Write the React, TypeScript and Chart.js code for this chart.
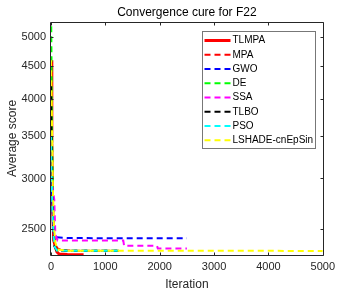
import React, { useEffect, useRef } from "react";
import { Chart, registerables } from "chart.js";

Chart.register(...registerables);

const FONT = "'Liberation Sans', Arial, Helvetica, sans-serif";

const chartTitle = "Convergence cure for F22";
const xAxisTitle = "Iteration";
const yAxisTitle = "Average score";

const seriesNames = ["TLMPA", "MPA", "GWO", "DE", "SSA", "TLBO", "PSO", "LSHADE-cnEpSin"];

const tlmpaIter = [0, 15, 30, 50, 80, 110, 150, 300, 600];
const tlmpaScore = [4600, 3400, 2700, 2400, 2345, 2300, 2283, 2280, 2278];

const mpaIter = [0, 15, 30, 50, 80, 120, 200, 400, 800, 1250];
const mpaScore = [4500, 3600, 2900, 2500, 2360, 2330, 2315, 2311, 2310, 2310];

const gwoIter = [0, 10, 20, 40, 60, 100, 300, 1000, 2500];
const gwoScore = [3860, 3200, 2800, 2500, 2440, 2425, 2420, 2417, 2416];

const deIter = [0, 10, 20, 40, 60, 80, 120, 400, 1250];
const deScore = [5800, 4500, 3500, 2700, 2400, 2330, 2312, 2310, 2310];

const ssaIter = [0, 30, 60, 80, 120, 1330, 1345, 1950, 1965, 2500];
const ssaScore = [2920, 2900, 2780, 2450, 2398, 2398, 2352, 2352, 2330, 2330];

const tlboIter = [0, 10, 20, 40, 60, 100, 300, 1250];
const tlboScore = [4200, 3500, 2900, 2500, 2350, 2315, 2311, 2310];

const psoIter = [0, 10, 25, 45, 70, 110, 400, 1250];
const psoScore = [3500, 3100, 2700, 2450, 2340, 2313, 2310, 2310];

const lshadeIter = [0, 15, 30, 50, 80, 120, 300, 1000, 5000];
const lshadeScore = [4600, 3800, 3000, 2550, 2380, 2320, 2311, 2310, 2309];

const xTickValues = [0, 1000, 2000, 3000, 4000, 5000];
const yTickValues = [2500, 3000, 3500, 4000, 4500, 5000];
const xMin = 0;
const xMax = 5000;
const yMin = 2275;
const yMax = 5283;

const seriesIters = [tlmpaIter, mpaIter, gwoIter, deIter, ssaIter, tlboIter, psoIter, lshadeIter];
const seriesScores = [tlmpaScore, mpaScore, gwoScore, deScore, ssaScore, tlboScore, psoScore, lshadeScore];

const colors = ["#ff0000", "#ff0000", "#0000ff", "#00ff00", "#ff00ff", "#000000", "#00ffff", "#ffff00"];

const decorPlugin = {
  id: "decor",
  afterDatasetsDraw(chart: any) {
    const { ctx, chartArea: a, scales } = chart;
    const L = Math.floor(a.left) - 0.5;
    const R = Math.round(a.right) + 0.5;
    const T = Math.floor(a.top) + 0.5;
    const B = Math.round(a.bottom) + 0.5;
    ctx.save();
    ctx.setLineDash([]);
    ctx.strokeStyle = "#262626";
    ctx.lineWidth = 1;
    ctx.beginPath();
    ctx.rect(L, T, R - L, B - T);
    ctx.stroke();
    const tl = 3;
    ctx.beginPath();
    xTickValues.forEach((v) => {
      const px = Math.round(scales.x.getPixelForValue(v)) + 0.5;
      ctx.moveTo(px, B);
      ctx.lineTo(px, B - tl);
      ctx.moveTo(px, T);
      ctx.lineTo(px, T + tl);
    });
    yTickValues.forEach((v) => {
      const py = Math.round(scales.y.getPixelForValue(v)) + 0.5;
      ctx.moveTo(L, py);
      ctx.lineTo(L + tl, py);
      ctx.moveTo(R, py);
      ctx.lineTo(R - tl, py);
    });
    ctx.stroke();

    // legend
    const lx = Math.round(a.right) - 120.5;
    const ly = Math.floor(a.top) + 9.5;
    const lw = 113;
    const lh = 117;
    ctx.fillStyle = "#ffffff";
    ctx.fillRect(lx, ly, lw, lh);
    ctx.strokeStyle = "#777777";
    ctx.lineWidth = 1;
    ctx.strokeRect(lx, ly, lw, lh);
    chart.data.datasets.forEach((ds: any, i: number) => {
      const y = ly + 9 + i * 14.25;
      ctx.beginPath();
      ctx.setLineDash(ds.borderDash || []);
      ctx.lineWidth = ds.borderWidth;
      ctx.strokeStyle = ds.borderColor;
      ctx.moveTo(lx + 2, y);
      ctx.lineTo(lx + 28, y);
      ctx.stroke();
      ctx.setLineDash([]);
      ctx.fillStyle = "#000000";
      ctx.font = `10px ${FONT}`;
      ctx.textAlign = "left";
      ctx.textBaseline = "middle";
      ctx.fillText(ds.label, lx + 30, y);
    });

    // titles
    const cx = (a.left + a.right) / 2;
    const cy = (a.top + a.bottom) / 2;
    ctx.fillStyle = "#000000";
    ctx.textAlign = "center";
    ctx.textBaseline = "middle";
    ctx.font = `12px ${FONT}`;
    ctx.fillText(chartTitle, cx, 12.5);
    ctx.fillStyle = "#262626";
    ctx.font = `12px ${FONT}`;
    ctx.fillText(xAxisTitle, cx, 285);
    ctx.save();
    ctx.translate(13, cy);
    ctx.rotate(-Math.PI / 2);
    ctx.fillText(yAxisTitle, 0, 0);
    ctx.restore();
    ctx.restore();
  },
};

export default function App() {
  const ref = useRef<HTMLCanvasElement | null>(null);
  useEffect(() => {
    if (!ref.current) return;
    const datasets = seriesNames.map((name, i) => ({
      label: name,
      data: seriesIters[i].map((x, j) => ({ x, y: seriesScores[i][j] })),
      borderColor: colors[i],
      backgroundColor: colors[i],
      borderWidth: i === 0 ? 3 : 2,
      borderDash: i === 0 ? [] : [6, 4],
      pointRadius: 0,
      tension: 0,
      fill: false,
      order: seriesNames.length - i,
    }));
    const chart = new Chart(ref.current, {
      type: "line",
      data: { datasets },
      plugins: [decorPlugin],
      options: {
        animation: false,
        responsive: false,
        layout: { padding: { left: 0, right: 14, top: 22, bottom: 0 } },
        plugins: { legend: { display: false }, tooltip: { enabled: false }, title: { display: false } },
        scales: {
          x: {
            type: "linear",
            min: xMin,
            max: xMax,
            afterBuildTicks: (s: any) => {
              s.ticks = xTickValues.map((v) => ({ value: v }));
            },
            ticks: { font: { family: FONT, size: 11 }, color: "#262626", padding: 5, maxRotation: 0, autoSkip: false, callback: (v: any) => String(v) },
            grid: { display: false, drawTicks: false },
            border: { display: false },
            afterFit: (s: any) => {
              s.height = 40;
            },
          },
          y: {
            type: "logarithmic",
            min: yMin,
            max: yMax,
            afterBuildTicks: (s: any) => {
              s.ticks = yTickValues.map((v) => ({ value: v }));
            },
            ticks: { font: { family: FONT, size: 11 }, color: "#262626", padding: 5, autoSkip: false, callback: (v: any) => String(v) },
            grid: { display: false, drawTicks: false },
            border: { display: false },
            afterFit: (s: any) => {
              s.width = 51;
            },
          },
        },
      },
    });
    return () => chart.destroy();
  }, []);
  return (
    <div style={{ position: "absolute", left: 0, top: 0, width: 340, height: 295, background: "#fff" }}>
      <canvas ref={ref} width={340} height={295} style={{ display: "block" }} />
    </div>
  );
}
